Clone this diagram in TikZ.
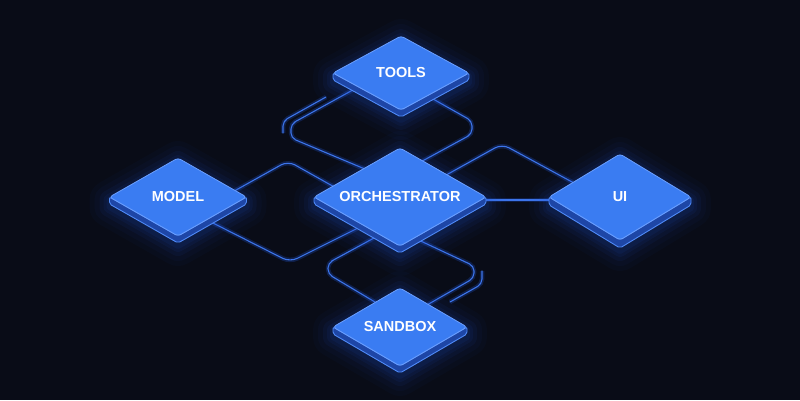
\documentclass[tikz,border=0pt]{standalone}
\usepackage{fontspec}
\setmainfont{Liberation Sans}
\usetikzlibrary{shapes.geometric,calc}
\pgfdeclarelayer{conn}\pgfdeclarelayer{glow}\pgfdeclarelayer{side}
\pgfsetlayers{conn,glow,side,main}
\definecolor{bgc}{HTML}{090C17}
\definecolor{facec}{HTML}{3A7CF2}
\definecolor{faceedge}{HTML}{6A9FFF}
\definecolor{sidec}{HTML}{1E46A6}
\definecolor{sideedge}{HTML}{4F8AF8}
\definecolor{wirec}{HTML}{3C74EA}
\definecolor{glowc}{HTML}{2458E0}
\tikzset{
  dia/.style={diamond, shape aspect=1.8, inner sep=0pt, outer sep=0pt,
    fill=facec, draw=faceedge, line width=0.8pt, rounded corners=3pt,
    text=white, font=\bfseries\fontsize{14.5}{16}\selectfont},
  wire/.style={draw=wirec, line width=1.1pt, rounded corners=8pt, line cap=round,
    preaction={draw=glowc, line width=4.5pt, opacity=0.25}},
  tightwire/.style={wire, rounded corners=5pt}
}
\newcommand\isobox[2]{%
  \begin{pgfonlayer}{glow}
    \foreach \w/\o in {40/0.03,30/0.04,20/0.06,12/0.07,6/0.08}{
      \draw[glowc, line width=\w pt, opacity=\o, line join=round]
        ($(#1.west)+(0,3)$) -- ($(#1.north)+(0,3)$) -- ($(#1.east)+(0,3)$) -- ($(#1.east)+(0,#2+3)$)
        -- ($(#1.south)+(0,#2+3)$) -- ($(#1.west)+(0,#2+3)$) -- cycle;}
  \end{pgfonlayer}
  \begin{pgfonlayer}{side}
    \filldraw[fill=sidec, draw=sideedge, line width=0.9pt, rounded corners=2pt]
      (#1.west) -- (#1.south) -- (#1.east) -- ($(#1.east)+(0,#2)$)
      -- ($(#1.south)+(0,#2)$) -- ($(#1.west)+(0,#2)$) -- cycle;
  \end{pgfonlayer}}
\begin{document}
\begin{tikzpicture}[x=1pt,y=-1pt]
\begin{pgfonlayer}{conn}
  \fill[bgc] (0,0) rectangle (800,400);
\end{pgfonlayer}
\useasboundingbox (0,0) rectangle (800,400);

\node[dia, minimum width=136pt, minimum height=74pt] (tools) at (401,73) {TOOLS};
\node[dia, minimum width=137pt, minimum height=78pt] (model) at (178,197) {MODEL};
\node[dia, minimum width=172pt, minimum height=98pt] (orch) at (400,197) {ORCHESTRATOR};
\node[dia, minimum width=142pt, minimum height=86pt] (ui) at (620,197) {UI};
\node[dia, minimum width=134pt, minimum height=78pt] (sandbox) at (400,327) {SANDBOX};

\isobox{tools}{7}
\isobox{model}{7}
\isobox{orch}{7}
\isobox{ui}{8}
\isobox{sandbox}{7}

\coordinate (hookA1) at (283,133);
\coordinate (hookA2) at (326,97);
\coordinate (hookB1) at (482,271);
\coordinate (hookB2) at (450,302);

\begin{pgfonlayer}{conn}
  % TOOLS - ORCHESTRATOR
  \draw[tightwire] (tools.center) -- (380,75) -- (291,124) -- (291,138) -- (372,172) -- (orch.center);
  \draw[tightwire] (tools.center) -- (410,86) -- (472,121) -- (472,134) -- (415,165) -- (orch.center);
  \draw[tightwire] (hookA1) -- (283,121) -- (hookA2);
  % MODEL - ORCHESTRATOR
  \draw[wire] (model.center) -- (220,199) -- (288,161) -- (345,193) -- (orch.center);
  \draw[wire] (model.center) -- (205,219) -- (290,262) -- (370,222) -- (orch.center);
  % ORCHESTRATOR - SANDBOX
  \draw[tightwire] (orch.center) -- (385,232) -- (328,263) -- (328,274) -- (385,308) -- (sandbox.center);
  \draw[tightwire] (orch.center) -- (410,236) -- (474,266) -- (474,278) -- (420,309) -- (sandbox.center);
  \draw[tightwire] (hookB1) -- (482,284) -- (hookB2);
  % ORCHESTRATOR - UI
  \draw[wire] ($(orch.center)+(0,3)$) -- ($(ui.center)+(0,3)$);
  \draw[wire] (orch.center) -- (430,184) -- (502,144) -- (585,189) -- (ui.center);
\end{pgfonlayer}
\end{tikzpicture}
\end{document}
